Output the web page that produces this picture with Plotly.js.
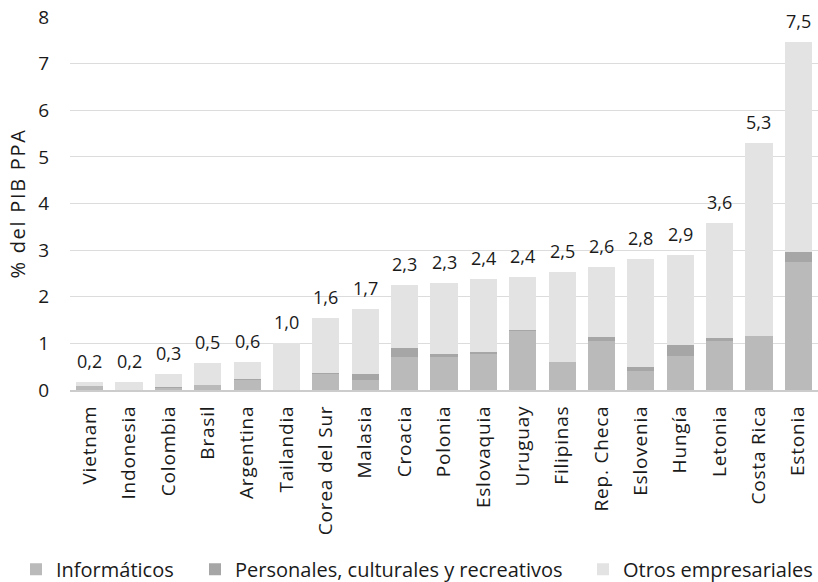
<!DOCTYPE html>
<html>
<head>
<meta charset="utf-8">
<script src="https://cdn.plot.ly/plotly-3.0.1.min.js"></script>
<style>
html,body{margin:0;padding:0;background:#fff;}
#chart{width:818px;height:582px;}
#chart .xtick text{letter-spacing:0.8px;}
#chart .ytitle{letter-spacing:1.7px;}
</style>
</head>
<body>
<div id="chart"></div>
<script>
var paises = ["Vietnam","Indonesia","Colombia","Brasil","Argentina","Tailandia","Corea del Sur","Malasia","Croacia","Polonia","Eslovaquia","Uruguay","Filipinas","Rep. Checa","Eslovenia","Hungía","Letonia","Costa Rica","Estonia"];
var informaticos = [0.08,0.00,0.05,0.10,0.22,0.00,0.35,0.21,0.71,0.70,0.77,1.26,0.60,1.05,0.40,0.74,1.05,1.15,2.75];
var personales   = [0.00,0.00,0.01,0.01,0.01,0.00,0.02,0.13,0.20,0.07,0.04,0.03,0.00,0.08,0.10,0.22,0.06,0.00,0.20];
var otros        = [0.10,0.18,0.29,0.46,0.37,1.00,1.18,1.39,1.35,1.52,1.57,1.14,1.93,1.50,2.31,1.93,2.48,4.14,4.51];
var etiquetas    = ["0,2","0,2","0,3","0,5","0,6","1,0","1,6","1,7","2,3","2,3","2,4","2,4","2,5","2,6","2,8","2,9","3,6","5,3","7,5"];

var totales = paises.map(function(p,i){return informaticos[i]+personales[i]+otros[i];});

var fontFam = "Open Sans, DejaVu Sans, sans-serif";
var txt = "#1a1a1a";
var traces = [
  {type:"bar", name:"Informáticos", x:paises, y:informaticos, marker:{color:"#bababa"}, hoverinfo:"skip", legend:"legend"},
  {type:"bar", name:"Personales, culturales y recreativos", x:paises, y:personales, marker:{color:"#a6a6a6"}, hoverinfo:"skip", legend:"legend2"},
  {type:"bar", name:"Otros empresariales", x:paises, y:otros, marker:{color:"#e3e3e3"}, hoverinfo:"skip", legend:"legend3"}
];

var annotations = paises.map(function(p,i){
  return {x:p, y:totales[i], text:etiquetas[i], showarrow:false, yanchor:"bottom", yshift:7,
          font:{family:fontFam, size:18, color:txt}};
});

function leg(xpx){
  return {orientation:"h", x:xpx/818, xref:"container", xanchor:"left", y:0.022, yref:"container", yanchor:"middle",
          font:{family:fontFam, size:20, color:txt}, bgcolor:"rgba(0,0,0,0)"};
}

var layout = {
  width:818, height:582,
  margin:{l:70, r:0, t:17, b:192},
  paper_bgcolor:"#ffffff", plot_bgcolor:"#ffffff",
  barmode:"stack", bargap:0.31,
  font:{family:fontFam, color:txt},
  showlegend:true,
  xaxis:{type:"category", tickangle:-90, tickfont:{family:fontFam, size:19, color:txt},
         showline:true, linecolor:"#cccccc", linewidth:2, ticks:"", showgrid:false, automargin:false,
         ticklabelstandoff:6},
  yaxis:{range:[0,8], dtick:1, tickfont:{family:fontFam, size:19, color:txt},
         showgrid:true, gridcolor:"#dcdcdc", gridwidth:1, zeroline:false, ticks:"",
         ticklabelstandoff:20,
         title:{text:"% del PIB PPA", font:{family:fontFam, size:20, color:txt}, standoff:7}, automargin:false},
  legend:leg(16),
  legend2:leg(195),
  legend3:leg(583),
  annotations:annotations
};

Plotly.newPlot("chart", traces, layout, {displayModeBar:false, staticPlot:true});
</script>
</body>
</html>
